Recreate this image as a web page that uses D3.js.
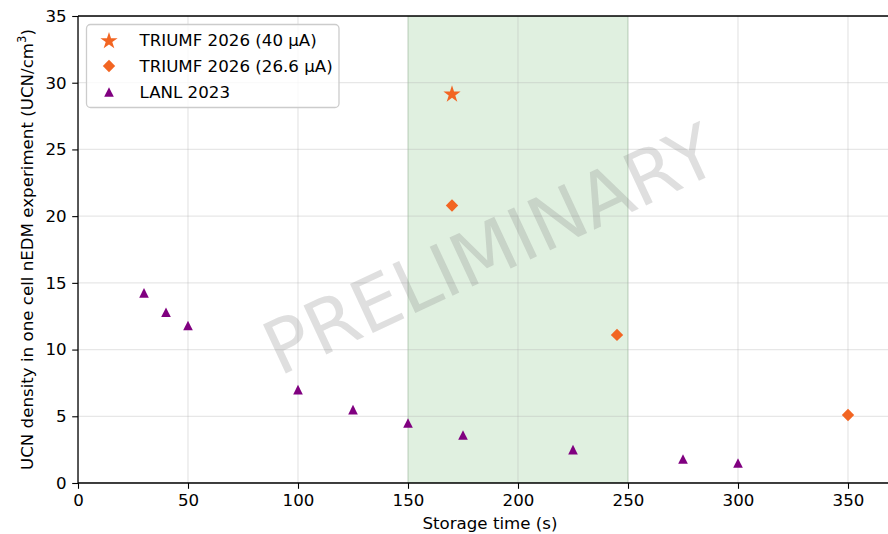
<!DOCTYPE html>
<html>
<head>
<meta charset="utf-8">
<script src="https://cdn.jsdelivr.net/npm/d3@7"></script>
<style>
  html, body { margin: 0; padding: 0; background: #fff; }
  svg { display: block; font-family: "DejaVu Sans", sans-serif; }
</style>
</head>
<body>
<svg id="chart" width="888" height="534"></svg>
<script>
// ---- data ----
const triumf40X = [170];
const triumf40Y = [29.2];
const triumf266X = [170, 245, 350];
const triumf266Y = [20.8, 11.1, 5.1];
const lanlX = [30, 40, 50, 100, 125, 150, 175, 225, 275, 300];
const lanlY = [14.25, 12.8, 11.8, 7.0, 5.5, 4.5, 3.6, 2.5, 1.8, 1.5];
const xTicks = [0, 50, 100, 150, 200, 250, 300, 350];
const yTicks = [0, 5, 10, 15, 20, 25, 30, 35];
const shadeRange = [150, 250];
const legendLabels = ["TRIUMF 2026 (40 \u00B5A)", "TRIUMF 2026 (26.6 \u00B5A)", "LANL 2023"];
const xLabel = "Storage time (s)";
const yLabelMain = "UCN density in one cell nEDM experiment (UCN/cm";
const watermark = "PRELIMINARY";

(function () {
const orange = "#f26522";
const purple = "#800080";
const FS = 16.67;

const svg = d3.select("#chart");
const pL = 78, pT = 16, pB = 483, pR = 888, axisR = 902;

const x = d3.scaleLinear().domain([0, 350]).range([pL, 848]);
const y = d3.scaleLinear().domain([0, 35]).range([pB, pT]);

svg.append("defs").append("clipPath").attr("id", "plotclip")
  .append("rect").attr("x", pL).attr("y", pT).attr("width", pR - pL).attr("height", pB - pT);

const plot = svg.append("g").attr("clip-path", "url(#plotclip)");

// shaded span
plot.append("rect")
  .attr("x", x(shadeRange[0])).attr("y", pT)
  .attr("width", x(shadeRange[1]) - x(shadeRange[0])).attr("height", pB - pT)
  .attr("fill", "green").attr("fill-opacity", 0.12)
  .attr("stroke", "green").attr("stroke-opacity", 0.12).attr("stroke-width", 1.3);

// grid
plot.append("g").selectAll("line").data(xTicks).join("line")
  .attr("x1", d => x(d)).attr("x2", d => x(d)).attr("y1", pT).attr("y2", pB)
  .attr("stroke", "#b0b0b0").attr("stroke-opacity", 0.3).attr("stroke-width", 1.3);
plot.append("g").selectAll("line").data(yTicks).join("line")
  .attr("x1", pL).attr("x2", pR).attr("y1", d => y(d)).attr("y2", d => y(d))
  .attr("stroke", "#b0b0b0").attr("stroke-opacity", 0.3).attr("stroke-width", 1.3);

// watermark
plot.append("text")
  .attr("transform", `translate(${(pL + axisR) / 2},${(pT + pB) / 2}) rotate(-25)`)
  .attr("text-anchor", "middle").attr("dominant-baseline", "central")
  .attr("font-size", 74).attr("fill", "#808080").attr("fill-opacity", 0.25)
  .text(watermark);

// markers
const triPath = "M0,-4.8L4.8,4.8L-4.8,4.8Z";
const diamondPath = "M0,-6.2L6.2,0L0,6.2L-6.2,0Z";
const starPath = d3.symbol(d3.symbolStar, 92)();

plot.append("g").selectAll("path").data(lanlX.map((v, i) => [v, lanlY[i]])).join("path")
  .attr("d", triPath).attr("transform", d => `translate(${x(d[0])},${y(d[1])})`)
  .attr("fill", purple);
plot.append("g").selectAll("path").data(triumf266X.map((v, i) => [v, triumf266Y[i]])).join("path")
  .attr("d", diamondPath).attr("transform", d => `translate(${x(d[0])},${y(d[1])})`)
  .attr("fill", orange);
plot.append("g").selectAll("path").data(triumf40X.map((v, i) => [v, triumf40Y[i]])).join("path")
  .attr("d", starPath).attr("transform", d => `translate(${x(d[0])},${y(d[1]) + 1})`)
  .attr("fill", orange);

// axes
const tick = 5.8, pad = 5.5;
const gx = svg.append("g").attr("transform", `translate(0,${pB})`)
  .call(d3.axisBottom(x).tickValues(xTicks).tickFormat(d3.format("d")).tickSize(tick).tickPadding(pad));
const gy = svg.append("g").attr("transform", `translate(${pL},0)`)
  .call(d3.axisLeft(y).tickValues(yTicks).tickFormat(d3.format("d")).tickSize(tick).tickPadding(pad));
[gx, gy].forEach(g => {
  g.select(".domain").remove();
  g.selectAll(".tick line").attr("stroke", "#000").attr("stroke-width", 1.1);
  g.selectAll(".tick text").attr("font-size", FS).attr("font-family", "DejaVu Sans").attr("fill", "#000");
});

// spines
svg.append("line").attr("x1", pL).attr("x2", pR).attr("y1", pB).attr("y2", pB)
  .attr("stroke", "#000").attr("stroke-width", 1.3);
svg.append("line").attr("x1", pL).attr("x2", pR).attr("y1", pT).attr("y2", pT)
  .attr("stroke", "#000").attr("stroke-width", 1.3);
svg.append("line").attr("x1", pL).attr("x2", pL).attr("y1", pT).attr("y2", pB)
  .attr("stroke", "#000").attr("stroke-width", 1.3);

// axis labels
svg.append("text").attr("x", (pL + axisR) / 2).attr("y", 529)
  .attr("text-anchor", "middle").attr("font-size", FS).attr("fill", "#000").text(xLabel);

const yl = svg.append("text")
  .attr("transform", `translate(33,${(pT + pB) / 2}) rotate(-90)`)
  .attr("text-anchor", "middle").attr("font-size", FS).attr("fill", "#000");
yl.append("tspan").text(yLabelMain);
yl.append("tspan").attr("dy", -7).attr("font-size", FS * 0.7).text("3");
yl.append("tspan").attr("dy", 7).text(")");

// legend
const lg = svg.append("g");
lg.append("rect").attr("x", 86.5).attr("y", 24.5).attr("width", 252.5).attr("height", 83)
  .attr("rx", 4).attr("ry", 4)
  .attr("fill", "#fff").attr("fill-opacity", 0.8)
  .attr("stroke", "#cccccc").attr("stroke-width", 1.3);
const legendShapes = [starPath, diamondPath, triPath];
const legendColors = [orange, orange, purple];
const legendY = [40, 66, 92];
legendLabels.forEach((lab, i) => {
  lg.append("path").attr("d", legendShapes[i])
    .attr("transform", `translate(109,${legendY[i] + (i === 0 ? 1 : 0)})`)
    .attr("fill", legendColors[i]);
  lg.append("text").attr("x", 139.5).attr("y", legendY[i] + 6)
    .attr("font-size", FS).attr("fill", "#000").text(lab);
});
})();
</script>
</body>
</html>
